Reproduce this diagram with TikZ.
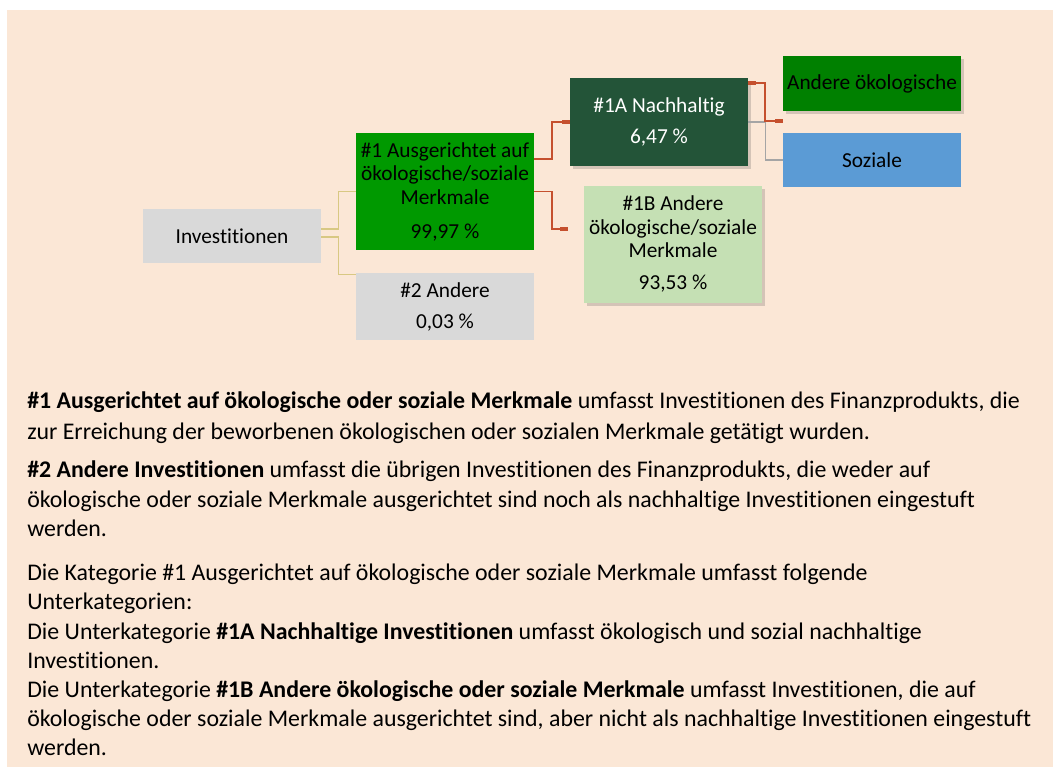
\documentclass[tikz,border=0pt]{standalone}
\usepackage{fontspec}
\setmainfont{Carlito}[Ligatures={NoCommon}]
\usetikzlibrary{calc,shadows,arrows.meta}
\definecolor{peach}{HTML}{FBE7D6}
\definecolor{boxgray}{HTML}{D9D9D9}
\definecolor{greenA}{HTML}{009900}
\definecolor{darkgreen}{HTML}{235438}
\definecolor{lightgreen}{HTML}{C5E0B4}
\definecolor{greenB}{HTML}{008000}
\definecolor{blueA}{HTML}{5B9BD5}
\definecolor{orangeline}{HTML}{C5502E}
\definecolor{tanline}{HTML}{D8C883}
\definecolor{grayline}{HTML}{A5A5A5}
\tikzset{
  box/.style={rectangle, draw=none, minimum width=133.5pt, align=center, inner sep=1pt,
    font=\fontsize{16}{17.6}\selectfont},
  shadowed/.style={drop shadow={shadow xshift=2pt, shadow yshift=-2.5pt, opacity=0.22, fill=black!70}},
  bodyline/.style={anchor=base west, inner sep=0pt, font=\fontsize{17.9}{22}\selectfont},
  tanconn/.style={draw=tanline, line width=1.1pt},
  orconn/.style={draw=orangeline, line width=1.4pt},
  grconn/.style={draw=grayline, line width=1.1pt},
  stubend/.style={-{Rectangle[length=6pt,width=2.8pt]}},
  stubboth/.style={{Rectangle[length=6pt,width=2.8pt]}-{Rectangle[length=6pt,width=2.8pt]}}
}
\begin{document}
\begin{tikzpicture}[x=0.75pt,y=-0.75pt]
\useasboundingbox (0,0) rectangle (1053,767);
\fill[white] (0,0) rectangle (1053,767);
\fill[peach] (7,10) rectangle (1053,767);

% boxes
\node[box, fill=boxgray, minimum height=40.5pt] (inv) at (232,236) {Investitionen};
\node[box, fill=greenA, minimum height=87.75pt] (n1) at (445,191.5)
  {\#1 Ausgerichtet auf\\ökologische/soziale\\Merkmale\\[7.9pt]99,97 \%};
\node[box, fill=boxgray, minimum height=50.25pt] (n2) at (445,306.5)
  {\#2 Andere\\[5.6pt]0,03 \%};
\node[box, shadowed, fill=darkgreen, text=white, minimum height=66pt] (na) at (659,122)
  {\#1A Nachhaltig\\[5.6pt]6,47 \%};
\node[box, shadowed, fill=lightgreen, minimum height=87.75pt] (nb) at (673,244)
  {\#1B Andere\\ökologische/soziale\\Merkmale\\[6.4pt]93,53 \%};
\node[box, shadowed, fill=greenB, minimum height=41.25pt] (ao) at (872,83.5) {Andere ökologische};
\node[box, fill=blueA, minimum height=40.5pt] (so) at (872,160) {Soziale};

\coordinate (nbin) at ($(nb.west)+(-16,-15)$);
\coordinate (aoin) at ($(ao.south west)+(0,10)$);

% connectors
\draw[tanconn] ($(inv.east)+(0,-7)$) -- ++(17,0) |- (n1.west);
\draw[tanconn] ($(inv.east)+(0,1)$) -- ++(17,0) |- ($(n2.north west)+(0,1.5)$);
\draw[orconn, stubend] ($(n1.east)+(0,-32.5)$) -- ++(18,0) |- (na.west);
\draw[orconn, stubend] (n1.east) -- ++(18,0) |- (nbin);
\draw[grconn] (na.east) -- ++(17,0) |- (so.west);
\draw[orconn, stubboth] ($(na.east)+(0,-39)$) -- ++(17,0) |- (aoin);

% text
\node[bodyline] (l1) at (27,408) {\textbf{\#1 Ausgerichtet auf ökologische oder soziale Merkmale} umfasst Investitionen des Finanzprodukts, die};
\node[bodyline] (l2) at (27,439) {zur Erreichung der beworbenen ökologischen oder sozialen Merkmale getätigt wurden.};
\node[bodyline] (l3) at (27,477) {\textbf{\#2 Andere Investitionen} umfasst die übrigen Investitionen des Finanzprodukts, die weder auf};
\node[bodyline] (l4) at (27,507) {ökologische oder soziale Merkmale ausgerichtet sind noch als nachhaltige Investitionen eingestuft};
\node[bodyline] (l5) at (27,536) {werden.};
\node[bodyline] (l6) at (27,580) {Die Kategorie \#1 Ausgerichtet auf ökologische oder soziale Merkmale umfasst folgende};
\node[bodyline] (l7) at (27,609) {Unterkategorien:};
\node[bodyline] (l8) at (27,639) {Die Unterkategorie \textbf{\#1A Nachhaltige Investitionen} umfasst ökologisch und sozial nachhaltige};
\node[bodyline] (l9) at (27,668) {Investitionen.};
\node[bodyline] (l10) at (27,697) {Die Unterkategorie \textbf{\#1B Andere ökologische oder soziale Merkmale} umfasst Investitionen, die auf};
\node[bodyline] (l11) at (27,726) {ökologische oder soziale Merkmale ausgerichtet sind, aber nicht als nachhaltige Investitionen eingestuft};
\node[bodyline] (l12) at (27,755) {werden.};
\end{tikzpicture}
\end{document}
